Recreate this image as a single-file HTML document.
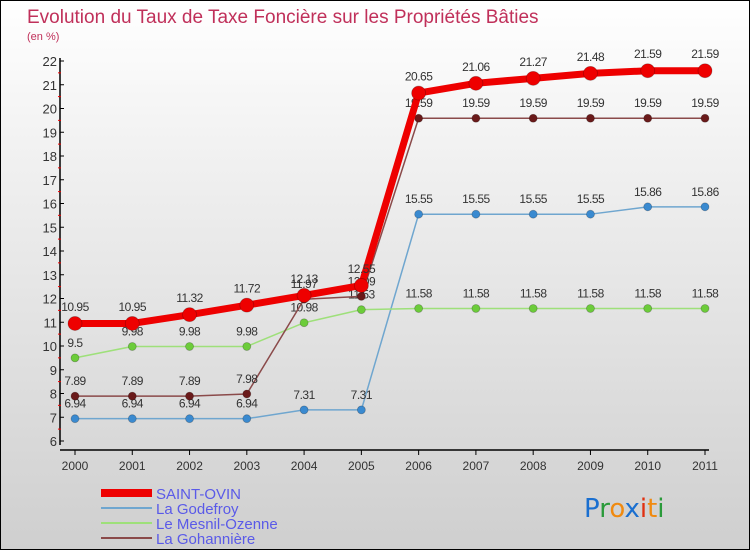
<!DOCTYPE html>
<html><head><meta charset="utf-8"><style>
html,body{margin:0;padding:0}
body{width:750px;height:550px;overflow:hidden;font-family:"Liberation Sans","DejaVu Sans",sans-serif}
#wrap{position:relative;width:748px;height:548px;border:1px solid #000;background:linear-gradient(#fff,#f0f0f0 30%,#cfcfcf)}
</style></head><body>
<div id="wrap">
<svg id="svg" width="748" height="548" xmlns="http://www.w3.org/2000/svg">
<text x="26" y="22" font-size="19" fill="#c0305a">Evolution du Taux de Taxe Foncière sur les Propriétés Bâties</text>
<text x="26" y="39" font-size="11" fill="#c0305a">(en %)</text>
<g id="axes"></g><g id="series"></g>
<g>
<line x1="100" y1="492" x2="151" y2="492" stroke="#e00" stroke-width="8"/>
<text x="155" y="498" font-size="15" fill="#5a5ae8">SAINT-OVIN</text>
<line x1="100" y1="507" x2="151" y2="507" stroke="#6fa6cf" stroke-width="2"/>
<text x="155" y="513" font-size="15" fill="#5a5ae8">La Godefroy</text>
<line x1="100" y1="522" x2="151" y2="522" stroke="#9ee07a" stroke-width="2"/>
<text x="155" y="528" font-size="15" fill="#5a5ae8">Le Mesnil-Ozenne</text>
<line x1="100" y1="537" x2="151" y2="537" stroke="#8a4a4a" stroke-width="2"/>
<text x="155" y="543" font-size="15" fill="#5a5ae8">La Gohannière</text>
</g>
<g font-size="26" font-family="'DejaVu Sans',sans-serif">
<text x="583" y="516"><tspan fill="#1a6fd0">P</tspan><tspan fill="#2a9a3a">r</tspan><tspan fill="#f08a10">o</tspan><tspan fill="#1a6fd0">x</tspan><tspan fill="#e03010">i</tspan><tspan fill="#f08a10">t</tspan><tspan fill="#2a9a3a">i</tspan></text>
</g>
</svg></div>
<script>
const years=["2000","2001","2002","2003","2004","2005","2006","2007","2008","2009","2010","2011"];
const yTicks=[6,7,8,9,10,11,12,13,14,15,16,17,18,19,20,21,22];
const saintOvin=[10.95,10.95,11.32,11.72,12.13,12.55,20.65,21.06,21.27,21.48,21.59,21.59];
const laGodefroy=[6.94,6.94,6.94,6.94,7.31,7.31,15.55,15.55,15.55,15.55,15.86,15.86];
const leMesnil=[9.5,9.98,9.98,9.98,10.98,11.53,11.58,11.58,11.58,11.58,11.58,11.58];
const laGohanniere=[7.89,7.89,7.89,7.98,11.97,12.09,19.59,19.59,19.59,19.59,19.59,19.59];
const NS="http://www.w3.org/2000/svg";
const xs=i=>74+i*(630/11);
const ys=v=>440-(v-6)*(380/16);
function mk(tag,a,p){const e=document.createElementNS(NS,tag);for(const k in a)e.setAttribute(k,a[k]);p.appendChild(e);return e;}
const ax=document.getElementById('axes');
let e=mk('line',{x1:59,y1:57,x2:59,y2:444,stroke:'#000','stroke-width':1.5},ax);


e=mk('line',{x1:59,y1:449,x2:708,y2:449,stroke:'#000','stroke-width':1.5},ax);


yTicks.forEach(v=>{const y=ys(v);
mk('line',{x1:59,y1:y,x2:63,y2:y,stroke:'#000'},ax);
if(v<22)mk('line',{x1:57,y1:y-11.9,x2:60,y2:y-11.9,stroke:'#e00'},ax);
const t=mk('text',{x:56,y:y+5,'font-size':13,fill:'#333','text-anchor':'end'},ax);t.textContent=v;

});
years.forEach((yr,i)=>{const x=xs(i);mk('line',{x1:x,y1:449,x2:x,y2:454,stroke:'#000'},ax);
const t=mk('text',{x:x,y:469,'font-size':12,fill:'#333','text-anchor':'middle'},ax);t.textContent=yr;

});
const sg=document.getElementById('series');
function series(name,vals,color,w,r,dot){const g=mk('g',{},sg);


mk('polyline',{points:vals.map((v,i)=>xs(i)+','+ys(v)).join(' '),fill:'none',stroke:color,'stroke-width':w,'stroke-linejoin':'round'},g);
vals.forEach((v,i)=>{const c=mk('circle',{cx:xs(i),cy:ys(v),r:r,fill:dot,stroke:'rgba(0,0,0,0.25)','stroke-width':0.8},g);


const t=mk('text',{x:xs(i),y:ys(v)-9-r/2,'font-size':12,fill:'#333','text-anchor':'middle','letter-spacing':'-0.5'},g);t.textContent=v;

});}
series('la-godefroy',laGodefroy,'#6fa6cf',1.5,4,'#3a8ad0');
series('le-mesnil-ozenne',leMesnil,'#9ee07a',1.5,4,'#6ccc3a');
series('la-gohanniere',laGohanniere,'#8a4a4a',1.5,4,'#6a1a1a');
series('saint-ovin',saintOvin,'#ee0000',7,7,'#ee0000');
</script>
</body></html>
